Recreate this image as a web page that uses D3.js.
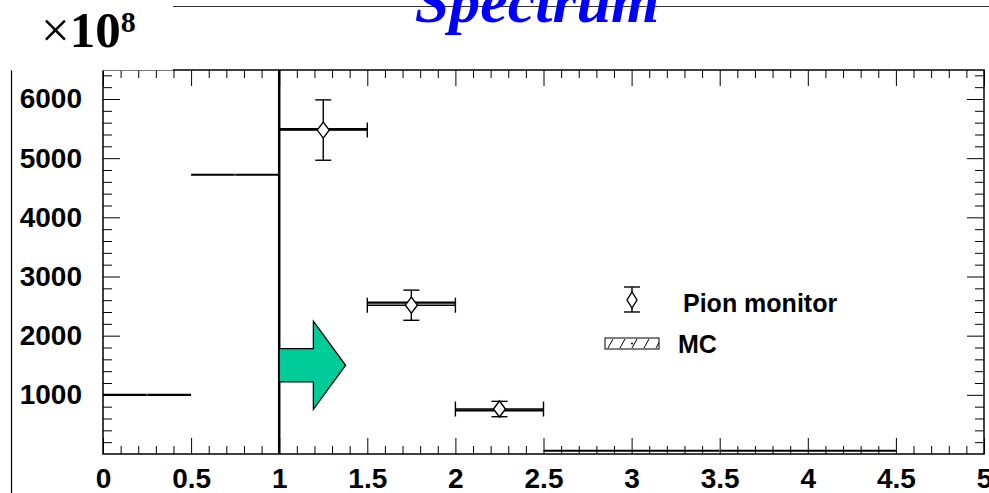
<!DOCTYPE html>
<html>
<head>
<meta charset="utf-8">
<script src="https://cdn.jsdelivr.net/npm/d3@7"></script>
<style>
  body { margin: 0; background: #fff; }
  svg { display: block; }
  .lab { font-family: "Liberation Sans", Arial, sans-serif; font-weight: bold; }
</style>
</head>
<body>
<div id="chart"></div>
<script>
const W = 989, H = 493;

// MC spectrum, variable bins
const mcEdges = [0, 0.5, 1, 1.5, 2, 2.5, 4.5];
const mcValues = [1000, 4720, 5490, 2560, 735, 55];

// pion monitor points
const pionX = [1.25, 1.75, 2.25];
const pionXErr = [0.25, 0.25, 0.25];
const pionY = [5475, 2515, 760];
const pionYErr = [510, 255, 130];

const xTicks = [0, 0.5, 1, 1.5, 2, 2.5, 3, 3.5, 4, 4.5, 5];
const xTickLabels = ["0", "0.5", "1", "1.5", "2", "2.5", "3", "3.5", "4", "4.5", "5"];
const yTicks = [1000, 2000, 3000, 4000, 5000, 6000];

// cut line and arrow, in data units
const cutX = 1;
const arrow = {x0: 1, xHead: 1.194, xTip: 1.377, y: 1500, shaft: 282, head: 744};

const svg = d3.select("#chart").append("svg").attr("width", W).attr("height", H);

const x = d3.scaleLinear().domain([0, 5]).range([103, 984]);
const y = d3.scaleLinear().domain([0, 6490]).range([454, 70]);

const minorX = d3.range(0, 50).map(i => i / 10).filter(v => Math.round(v * 10) % 5 !== 0);
const minorY = d3.range(0, 33).map(i => i * 200).filter(v => v % 1000 !== 0);

function styleAxis(g) {
  g.select(".domain").remove();
  g.selectAll("line").attr("stroke", "#000").attr("stroke-width", 1);
}

// axes: ticks drawn pointing into the frame
svg.append("g").attr("transform", `translate(0,${y(0)})`)
  .call(d3.axisBottom(x).tickValues(xTicks).tickSizeInner(-16).tickSizeOuter(0).tickPadding(14)
    .tickFormat((d, i) => xTickLabels[i]))
  .call(styleAxis)
  .selectAll("text").attr("class", "lab").attr("font-size", 28).attr("fill", "#000");
svg.append("g").attr("transform", `translate(0,${y(0)})`)
  .call(d3.axisBottom(x).tickValues(minorX).tickSizeInner(-8).tickSizeOuter(0).tickFormat(""))
  .call(styleAxis);
svg.append("g").attr("transform", `translate(0,${y.range()[1]})`)
  .call(d3.axisTop(x).tickValues(xTicks).tickSizeInner(-16).tickSizeOuter(0).tickFormat(""))
  .call(styleAxis);
svg.append("g").attr("transform", `translate(0,${y.range()[1]})`)
  .call(d3.axisTop(x).tickValues(minorX).tickSizeInner(-8).tickSizeOuter(0).tickFormat(""))
  .call(styleAxis);

svg.append("g").attr("transform", `translate(${x(0)},0)`)
  .call(d3.axisLeft(y).tickValues(yTicks).tickSizeInner(-17).tickSizeOuter(0).tickPadding(21)
    .tickFormat(d3.format("d")))
  .call(styleAxis)
  .selectAll("text").attr("class", "lab").attr("font-size", 28).attr("fill", "#000");
svg.append("g").attr("transform", `translate(${x(0)},0)`)
  .call(d3.axisLeft(y).tickValues(minorY).tickSizeInner(-9).tickSizeOuter(0).tickFormat(""))
  .call(styleAxis);
svg.append("g").attr("transform", `translate(${x(5)},0)`)
  .call(d3.axisRight(y).tickValues(yTicks).tickSizeInner(-17).tickSizeOuter(0).tickFormat(""))
  .call(styleAxis);
svg.append("g").attr("transform", `translate(${x(5)},0)`)
  .call(d3.axisRight(y).tickValues(minorY).tickSizeInner(-9).tickSizeOuter(0).tickFormat(""))
  .call(styleAxis);

// frame
svg.append("rect")
  .attr("x", x(0)).attr("y", y.range()[1])
  .attr("width", x(5) - x(0)).attr("height", y(0) - y.range()[1])
  .attr("fill", "none").attr("stroke", "#000").attr("stroke-width", 1.5);

// MC histogram: horizontal bars with small markers
const mc = mcValues.map((v, i) => ({lo: mcEdges[i], hi: mcEdges[i + 1], v}));
svg.append("g").selectAll("line").data(mc).join("line")
  .attr("x1", d => x(d.lo)).attr("x2", d => x(d.hi))
  .attr("y1", d => y(d.v)).attr("y2", d => y(d.v))
  .attr("stroke", "#000").attr("stroke-width", 2.2);
svg.append("g").selectAll("circle").data(mc).join("circle")
  .attr("cx", d => x((d.lo + d.hi) / 2)).attr("cy", d => y(d.v)).attr("r", 1)
  .attr("fill", "#666");

// cut line
svg.append("line")
  .attr("x1", x(cutX)).attr("x2", x(cutX))
  .attr("y1", y.range()[1]).attr("y2", y(0))
  .attr("stroke", "#000").attr("stroke-width", 2.5);

// arrow
const ap = [
  [arrow.x0, arrow.y + arrow.shaft], [arrow.xHead, arrow.y + arrow.shaft],
  [arrow.xHead, arrow.y + arrow.head], [arrow.xTip, arrow.y],
  [arrow.xHead, arrow.y - arrow.head], [arrow.xHead, arrow.y - arrow.shaft],
  [arrow.x0, arrow.y - arrow.shaft]
];
svg.append("path")
  .attr("d", d3.line().x(d => x(d[0])).y(d => y(d[1]))(ap) + "Z")
  .attr("fill", "#00cc99").attr("stroke", "#000").attr("stroke-width", 1.3);

// pion monitor points
const pion = pionX.map((v, i) => ({x: v, xe: pionXErr[i], y: pionY[i], ye: pionYErr[i]}));
const pg = svg.append("g").attr("stroke", "#000").attr("stroke-width", 1.4);
const pts = pg.selectAll("g").data(pion).join("g");
pts.append("line")
  .attr("x1", d => x(d.x - d.xe)).attr("x2", d => x(d.x + d.xe))
  .attr("y1", d => y(d.y)).attr("y2", d => y(d.y));
pts.append("line")
  .attr("x1", d => x(d.x - d.xe)).attr("x2", d => x(d.x - d.xe))
  .attr("y1", d => y(d.y) - 7.5).attr("y2", d => y(d.y) + 7.5);
pts.append("line")
  .attr("x1", d => x(d.x + d.xe)).attr("x2", d => x(d.x + d.xe))
  .attr("y1", d => y(d.y) - 7.5).attr("y2", d => y(d.y) + 7.5);
pts.append("line")
  .attr("x1", d => x(d.x)).attr("x2", d => x(d.x))
  .attr("y1", d => y(d.y - d.ye)).attr("y2", d => y(d.y + d.ye));
pts.append("line")
  .attr("x1", d => x(d.x) - 8).attr("x2", d => x(d.x) + 8)
  .attr("y1", d => y(d.y + d.ye)).attr("y2", d => y(d.y + d.ye));
pts.append("line")
  .attr("x1", d => x(d.x) - 8).attr("x2", d => x(d.x) + 8)
  .attr("y1", d => y(d.y - d.ye)).attr("y2", d => y(d.y - d.ye));

const diamond = (cx, cy, w, h) => `M${cx},${cy - h}L${cx + w},${cy}L${cx},${cy + h}L${cx - w},${cy}Z`;
pts.append("path")
  .attr("d", d => diamond(x(d.x), y(d.y), 6, 8))
  .attr("fill", "#fff");

// legend
const lg = svg.append("g");
lg.append("line").attr("x1", 632).attr("x2", 632).attr("y1", 287).attr("y2", 312)
  .attr("stroke", "#000").attr("stroke-width", 1.4);
lg.append("line").attr("x1", 624).attr("x2", 640).attr("y1", 287).attr("y2", 287)
  .attr("stroke", "#000").attr("stroke-width", 1.4);
lg.append("line").attr("x1", 624).attr("x2", 640).attr("y1", 312).attr("y2", 312)
  .attr("stroke", "#000").attr("stroke-width", 1.4);
lg.append("path").attr("d", diamond(632, 300, 5, 8))
  .attr("fill", "#fff").attr("stroke", "#000").attr("stroke-width", 1.4);
lg.append("text").attr("class", "lab").attr("x", 683).attr("y", 312)
  .attr("font-size", 25).text("Pion monitor");

const hatch = svg.append("defs").append("pattern")
  .attr("id", "hatch").attr("patternUnits", "userSpaceOnUse")
  .attr("x", 607).attr("y", 338)
  .attr("width", 12).attr("height", 11);
hatch.append("line").attr("x1", 1).attr("y1", 10).attr("x2", 6).attr("y2", 1)
  .attr("stroke", "#000").attr("stroke-width", 1);
lg.append("rect").attr("x", 605).attr("y", 338).attr("width", 54).attr("height", 11)
  .attr("fill", "url(#hatch)").attr("stroke", "#000").attr("stroke-width", 1);
lg.append("circle").attr("cx", 632).attr("cy", 343.5).attr("r", 1).attr("fill", "#000");
lg.append("text").attr("class", "lab").attr("x", 678).attr("y", 353)
  .attr("font-size", 25).text("MC");

// pad border, partly covered by the exponent box
svg.append("line").attr("x1", 11.5).attr("x2", 11.5).attr("y1", 6).attr("y2", H)
  .attr("stroke", "#000").attr("stroke-width", 1.2);
svg.append("line").attr("x1", 11.5).attr("x2", W).attr("y1", 6.5).attr("y2", 6.5)
  .attr("stroke", "#333").attr("stroke-width", 1.2);
svg.append("rect").attr("x", 0).attr("y", 0).attr("width", 173).attr("height", 70.3).attr("fill", "#fff");

const ex = svg.append("text").attr("x", 41).attr("y", 47)
  .attr("font-family", "Liberation Serif, Times New Roman, serif").attr("fill", "#000");
ex.append("tspan").attr("font-size", 51).text("×");
ex.append("tspan").attr("font-size", 51).attr("font-weight", "bold").text("10");
ex.append("tspan").attr("font-size", 30).attr("font-weight", "bold").attr("dy", -15).text("8");

// title
svg.append("text").attr("x", 537).attr("y", 22).attr("text-anchor", "middle")
  .attr("font-family", "Liberation Serif, Times New Roman, serif")
  .attr("font-weight", "bold").attr("font-style", "italic")
  .attr("font-size", 62).attr("fill", "#0000ff").text("Spectrum");
</script>
</body>
</html>
